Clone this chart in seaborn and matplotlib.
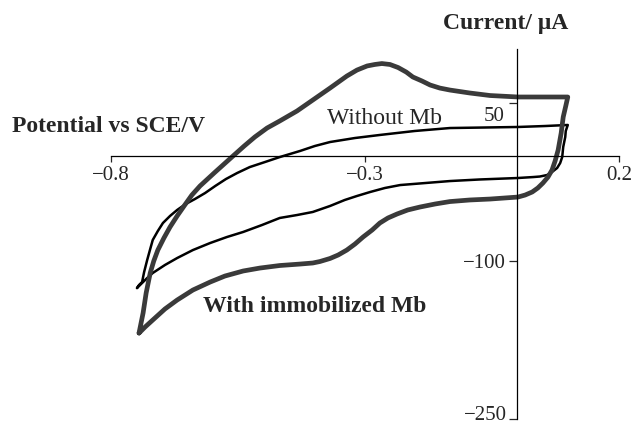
import matplotlib
matplotlib.use('Agg')
import matplotlib.pyplot as plt
import seaborn as sns

sns.set_style('ticks')
plt.rcParams['font.family'] = ['Liberation Serif', 'DejaVu Serif']

# cyclic voltammogram, electrode with immobilized Mb (scan order)
mb_pot = [-0.745, -0.741, -0.737, -0.731, -0.723, -0.716, -0.708, -0.696, -0.684,
          -0.670, -0.655, -0.641, -0.625, -0.595, -0.560, -0.538, -0.517, -0.493,
          -0.468, -0.434, -0.403, -0.369, -0.336, -0.316, -0.296, -0.281, -0.267,
          -0.251, -0.235, -0.219, -0.206, -0.188, -0.172, -0.153, -0.133, -0.094,
          -0.054, 0.001, 0.044, 0.099,
          0.095, 0.090, 0.086, 0.080, 0.074, 0.068, 0.060, 0.050, 0.040, 0.029,
          0.015, 0.001, -0.054, -0.094, -0.133, -0.162, -0.192, -0.216, -0.237,
          -0.255, -0.271, -0.286, -0.304, -0.320, -0.336, -0.353, -0.369, -0.389,
          -0.403, -0.428, -0.468, -0.507, -0.540, -0.576, -0.605, -0.639, -0.670,
          -0.694, -0.718, -0.733, -0.745]
mb_cur = [-168.3, -158.7, -149.2, -130.2, -111.2, -99.8, -89.4, -77.9, -67.5,
          -57.0, -46.6, -37.1, -28.5, -15.2, 0.0, 9.5, 18.1, 26.6,
          33.3, 42.8, 53.2, 64.6, 76.0, 81.7, 85.6, 87.0, 87.9,
          87.0, 84.1, 79.8, 75.1, 71.3, 67.5, 64.6, 62.7, 59.9,
          57.5, 56.1, 56.1, 56.1,
          47.5, 37.1, 21.9, 5.7, -4.8, -13.3, -20.0, -25.7, -30.4, -34.2,
          -37.1, -39.0, -40.9, -41.8, -43.3, -45.6, -48.5, -51.3, -55.1,
          -58.9, -63.7, -70.3, -77.0, -83.7, -89.4, -94.1, -97.4, -100.3,
          -101.7, -102.7, -104.1, -106.5, -109.3, -114.1, -119.8, -127.4, -136.9,
          -145.4, -155.9, -162.5, -168.3]

# cyclic voltammogram, bare electrode (without Mb)
bare_pot = [-0.749, -0.745, -0.739, -0.735, -0.729, -0.723, -0.718, -0.708, -0.698,
            -0.684, -0.670, -0.653, -0.635, -0.615, -0.595, -0.574, -0.552, -0.527,
            -0.497, -0.468, -0.428, -0.399, -0.369, -0.320, -0.271, -0.202, -0.133,
            -0.064, 0.001, 0.054, 0.099,
            0.095, 0.094, 0.090, 0.088, 0.084, 0.078, 0.068, 0.058, 0.044, 0.031,
            0.001, -0.074, -0.133, -0.182, -0.231, -0.261, -0.290, -0.316, -0.340,
            -0.369, -0.403, -0.434, -0.468, -0.503, -0.540, -0.572, -0.605, -0.639,
            -0.670, -0.694, -0.718, -0.729, -0.739, -0.749]
bare_cur = [-125.5, -122.6, -119.8, -110.3, -98.9, -88.4, -79.8, -71.3, -63.7,
            -57.0, -51.3, -45.6, -40.9, -35.2, -28.5, -21.9, -16.2, -10.5,
            -5.7, -1.0, 4.8, 9.5, 13.3, 17.1, 20.0, 23.8, 26.6,
            27.1, 27.6, 28.5, 29.5,
            23.8, 18.1, 8.6, -1.0, -6.7, -11.4, -15.2, -18.1, -19.5, -20.0,
            -20.9, -22.3, -23.8, -25.7, -27.6, -30.4, -34.2, -38.0, -41.8,
            -47.5, -53.2, -56.1, -58.9, -65.6, -72.2, -77.0, -82.7, -89.4,
            -97.0, -103.6, -111.2, -116.0, -120.7, -125.5]

x_ticks = [-0.8, -0.3, 0.2]
x_tick_labels = ['\u22120.8', '\u22120.3', '0.2']
y_ticks = [50, -100, -250]
y_tick_labels = ['', '\u2212100', '']

fig = plt.figure(figsize=(6.35, 4.29), dpi=100)
ax = fig.add_axes([0, 0, 1, 1])

sns.lineplot(x=bare_pot, y=bare_cur, sort=False, estimator=None, color='black',
             linewidth=1.8, solid_joinstyle='round', solid_capstyle='round', ax=ax)
sns.lineplot(x=mb_pot, y=mb_cur, sort=False, estimator=None, color='#3a3a3a',
             linewidth=3.4, solid_joinstyle='round', solid_capstyle='round', ax=ax)

ax.set_xlim(-1.0187, 0.2313)
ax.set_ylim(-259.5, 148.3)

# axes crossing at the origin
ax.spines['top'].set_visible(False)
ax.spines['right'].set_visible(False)
ax.spines['bottom'].set_position(('data', 0))
ax.spines['left'].set_position(('data', 0))
ax.spines['bottom'].set_bounds(-0.8, 0.2)
ax.spines['left'].set_bounds(-250, 102)
for s in ['bottom', 'left']:
    ax.spines[s].set_linewidth(0.9)
    ax.spines[s].set_color('black')

ax.set_xticks(x_ticks)
ax.set_xticklabels(x_tick_labels)
ax.set_yticks(y_ticks)
ax.set_yticklabels(y_tick_labels)
ax.tick_params(axis='x', direction='out', length=4.5, width=0.9, labelsize=15, pad=3)
ax.tick_params(axis='y', direction='out', length=5.5, width=0.9, labelsize=15, pad=3)
ax.set_xlabel('')
ax.set_ylabel('')

# labels placed by hand (offset from their ticks as in the original)
ax.text(-0.025, 37.1, '50', fontsize=15, ha='right', va='center')
ax.text(-0.021, -246.5, '\u2212250', fontsize=15, ha='right', va='center')
ax.text(-0.615, 27.6, 'Potential vs SCE/V', fontsize=17, fontweight='bold',
        ha='right', va='center')
ax.text(-0.023, 126.4, 'Current/ \u03bcA', fontsize=17, fontweight='bold',
        ha='center', va='center')
ax.text(-0.261, 36.1, 'Without Mb', fontsize=17, ha='center', va='center')
ax.text(-0.400, -142.6, 'With immobilized Mb', fontsize=17, fontweight='bold',
        ha='center', va='center')

fig.savefig('out.png', dpi=100)
